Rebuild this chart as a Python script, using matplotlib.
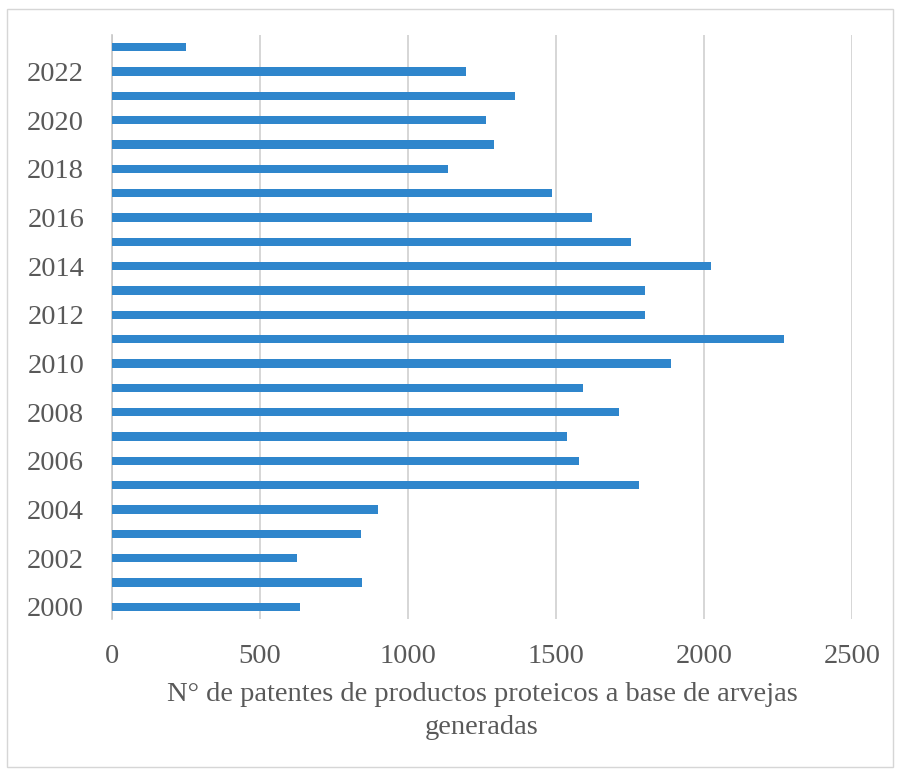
import numpy as np
import matplotlib.pyplot as plt
from matplotlib.patches import Rectangle

# años y número de patentes
years = list(range(2000, 2024))
patents = [634, 846, 626, 841, 900, 1782, 1578, 1537, 1712, 1590,
           1890, 2269, 1802, 1802, 2023, 1754, 1623, 1486, 1135, 1290,
           1262, 1360, 1196, 251]
ytick_years = list(range(2000, 2023, 2))
xticks = [0, 500, 1000, 1500, 2000, 2500]
xlabel = "N° de patentes de productos proteicos a base de arvejas\ngeneradas"

plt.rcParams['font.family'] = ['Liberation Serif', 'DejaVu Serif']
text_color = '#595959'

fig = plt.figure(figsize=(8.99, 7.76), dpi=100)
ax = fig.add_axes([0.1246, 0.2023, 0.8231, 0.7526])

ax.barh(years, patents, height=0.33, color='#2f86cc', zorder=3)

ax.set_xlim(0, 2500)
ax.set_ylim(years[0] - 0.5, years[-1] + 0.5)
ax.set_xticks(xticks)
ax.set_yticks(ytick_years)
ax.tick_params(axis='both', length=0, labelsize=20.5, labelcolor=text_color)
ax.tick_params(axis='x', pad=18)
ax.tick_params(axis='y', pad=20)

ax.grid(axis='x', color='#d0d0d0', linewidth=1.2, zorder=0)
for side in ['top', 'right', 'bottom']:
    ax.spines[side].set_visible(False)
ax.spines['left'].set_color('#c8c8c8')
ax.spines['left'].set_linewidth(1.2)

ax.set_xlabel(xlabel, fontsize=20.5, color=text_color, labelpad=9, linespacing=1.45)

# marco exterior
fig.patches.append(Rectangle((0.008, 0.012), 0.985, 0.977, transform=fig.transFigure,
                             fill=False, edgecolor='#d6d6d6', linewidth=1.0))

fig.savefig('out.png', dpi=100)
